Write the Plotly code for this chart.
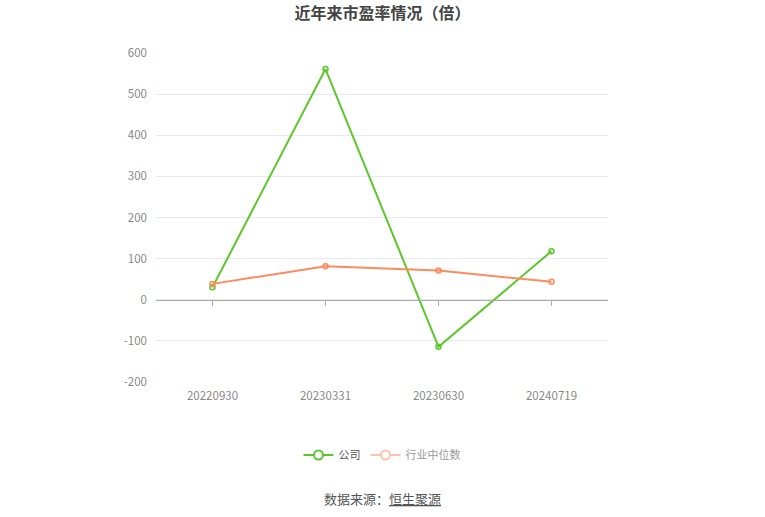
import plotly.graph_objects as go

dates = ["20220930", "20230331", "20230630", "20240719"]
company_pe = [30.3, 561.0, -114.5, 118.0]
industry_pe = [38.6, 81.5, 71.0, 43.5]
y_ticks = [-200, -100, 0, 100, 200, 300, 400, 500, 600]
y_tick_labels = ["-200", "-100", "0", "100", "200", "300", "400", "500", "600"]

green = "#5cc72a"
orange = "#ff8a5b"
font_cn = "Noto Sans CJK SC, Microsoft YaHei, sans-serif"

fig = go.Figure()

fig.add_trace(
    go.Scatter(
        x=dates,
        y=company_pe,
        mode="lines+markers",
        name="公司",
        line=dict(color=green, width=2),
        marker=dict(symbol="circle-open", size=5, color=green, line=dict(width=1.5)),
        showlegend=False,
    )
)
fig.add_trace(
    go.Scatter(
        x=dates,
        y=industry_pe,
        mode="lines+markers",
        name="行业中位数",
        line=dict(color=orange, width=2),
        marker=dict(symbol="circle-open", size=5, color=orange, line=dict(width=1.5)),
        showlegend=False,
    )
)

# legend entries (industry one looks faded in the original)
fig.add_trace(
    go.Scatter(
        x=[None],
        y=[None],
        mode="lines+markers",
        name="公司",
        line=dict(color=green, width=2),
        marker=dict(symbol="circle", size=9, color="white", line=dict(color=green, width=2)),
    )
)
fig.add_trace(
    go.Scatter(
        x=[None],
        y=[None],
        mode="lines+markers",
        name="<span style='color:#999'>行业中位数</span>",
        line=dict(color="#ffc3ab", width=2),
        marker=dict(symbol="circle", size=9, color="white", line=dict(color="#ffc3ab", width=2)),
    )
)

# dummy trace so the label axis gets drawn
fig.add_trace(
    go.Scatter(x=dates, y=[0] * len(dates), xaxis="x2", mode="none",
               showlegend=False, hoverinfo="skip")
)

fig.update_layout(
    width=765,
    height=517,
    margin=dict(l=156, r=157, t=53, b=135),
    paper_bgcolor="white",
    plot_bgcolor="white",
    font=dict(family=font_cn, size=11, color="#888"),
    title=dict(
        text="<b>近年来市盈率情况（倍）</b>",
        x=0.5,
        xanchor="center",
        y=1 - 13 / 517,
        yanchor="middle",
        font=dict(size=16, color="#444", family=font_cn),
    ),
    xaxis=dict(
        type="category",
        range=[-0.5, 3.5],
        anchor="free",
        position=82 / 329,
        showline=True,
        linecolor="#aaa",
        linewidth=1,
        ticks="outside",
        ticklen=5,
        tickcolor="#aaa",
        showticklabels=False,
        showgrid=False,
        zeroline=False,
    ),
    xaxis2=dict(
        type="category",
        overlaying="x",
        side="bottom",
        anchor="y",
        range=[-0.5, 3.5],
        showline=False,
        showgrid=False,
        ticks="",
        ticklabelstandoff=5,
        tickfont=dict(size=11.5, color="#888"),
    ),
    yaxis=dict(
        range=[-200, 600],
        tickvals=y_ticks,
        ticktext=y_tick_labels,
        showgrid=True,
        gridcolor="#e6e8f2",
        gridwidth=1,
        zeroline=False,
        showline=False,
        ticks="",
        ticklabelstandoff=8,
        tickfont=dict(size=11.5, color="#888"),
    ),
    legend=dict(
        orientation="h",
        x=0.5,
        xanchor="center",
        y=-73 / 329,
        yanchor="middle",
        font=dict(size=11, color="#555"),
        itemwidth=30,
    ),
    showlegend=True,
)

fig.add_annotation(
    text="数据来源：<u>恒生聚源</u>",
    x=0.5,
    xref="paper",
    y=-116 / 329,
    yref="paper",
    yanchor="middle",
    showarrow=False,
    font=dict(size=13, color="#555", family=font_cn),
)

fig.write_html(
    "out.html",
    config={"displayModeBar": False},
    post_script="document.body.style.margin='0';",
)
